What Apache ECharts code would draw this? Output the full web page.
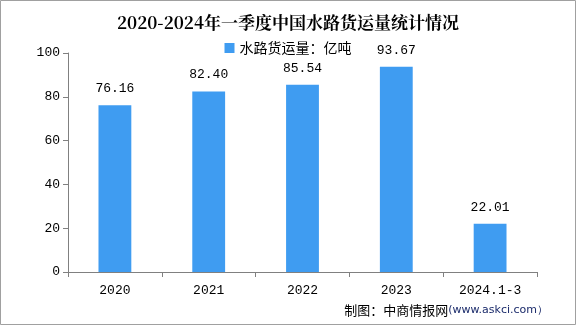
<!DOCTYPE html>
<html><head><meta charset="utf-8">
<script src="https://cdn.jsdelivr.net/npm/echarts@6/dist/echarts.min.js"></script>
<style>html,body{margin:0;padding:0;background:#fff}#c{width:576px;height:325px}</style>
</head><body><div id="c"></div>
<script>
const categories = ['2020','2021','2022','2023','2024.1-3'];
const values = [76.16, 82.40, 85.54, 93.67, 22.01];
const labels = ['76.16','82.40','85.54','93.67','22.01'];
const seriesName = '水路货运量：亿吨';
const yTicks = [0, 20, 40, 60, 80, 100];

const chart = echarts.init(document.getElementById('c'));
chart.setOption({
  animation: false,
  backgroundColor: '#fff',
  title: {
    text: '2020-2024年一季度中国水路货运量统计情况',
    left: 'center', top: 9,
    textStyle: {fontFamily: '"Noto Serif CJK SC","DejaVu Serif",serif', fontSize: 17, fontWeight: 'bold', color: '#000'}
  },
  legend: {
    top: 36, left: 'center', itemWidth: 10, itemHeight: 10, itemGap: 6, icon: 'rect',
    textStyle: {fontFamily: '"Noto Sans CJK SC",sans-serif', fontSize: 14, color: '#000'},
    data: [seriesName]
  },
  grid: {left: 68, right: 39, top: 53, bottom: 53},
  xAxis: {
    type: 'category', data: categories,
    axisLine: {lineStyle: {color: '#808080'}},
    axisTick: {show: true, alignWithLabel: false, length: 5, lineStyle: {color: '#808080'}},
    axisLabel: {color: '#000', fontSize: 13, margin: 12, fontFamily: '"Liberation Mono",monospace'}
  },
  yAxis: {
    type: 'value', min: 0, max: 100, interval: 20,
    axisLine: {show: true, lineStyle: {color: '#808080'}},
    axisTick: {show: true, length: 5, lineStyle: {color: '#808080'}},
    splitLine: {show: false},
    axisLabel: {color: '#000', fontSize: 13, margin: 8, fontFamily: '"Liberation Mono",monospace'}
  },
  series: [{
    name: seriesName, type: 'bar', data: values, barWidth: '35%',
    itemStyle: {color: '#3f9cf1'},
    label: {show: true, position: 'top', distance: 10, color: '#000', fontSize: 13,
      fontFamily: '"Liberation Mono",monospace',
      formatter: p => labels[p.dataIndex]}
  }],
  graphic: [
    {type: 'rect', shape: {x: 0.5, y: 0.5, width: 575, height: 324}, style: {fill: null, stroke: '#a0a0a0', lineWidth: 1}, silent: true},
    {type: 'text', right: 28, bottom: 8, style: {
      text: '{a|制图：中商情报网}{b|(www.askci.com）}',
      rich: {
        a: {fontFamily: '"Noto Sans CJK SC",sans-serif', fontSize: 13, fill: '#000'},
        b: {fontFamily: '"DejaVu Sans",sans-serif', fontSize: 11, fill: '#1a2a6a'}
      }
    }}
  ]
});
</script></body></html>
